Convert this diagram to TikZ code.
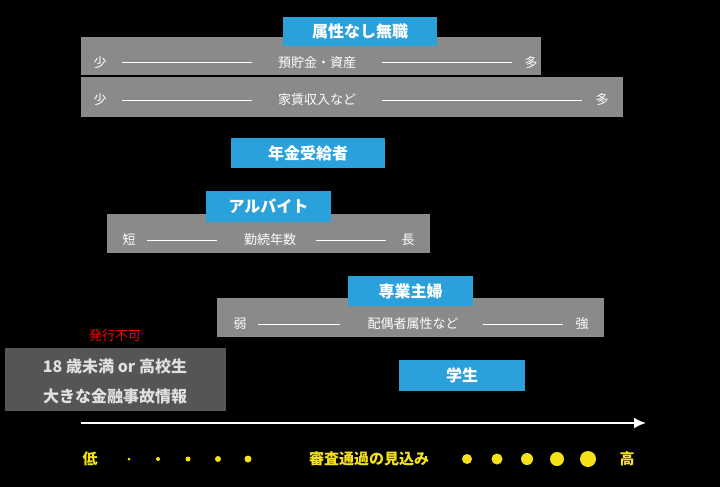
\documentclass[tikz,border=0pt]{standalone}
\usetikzlibrary{arrows.meta}
\usepackage{fontspec}
\setmainfont{Noto Sans CJK JP}
\definecolor{bluebox}{HTML}{2AA1DA}
\definecolor{graybox}{HTML}{8A8A8A}
\definecolor{darkbox}{HTML}{555555}
\definecolor{ylw}{HTML}{F5E11A}
\tikzset{
 blab/.style={fill=bluebox,text=white,font=\fontsize{16}{16}\selectfont\bfseries,inner sep=0pt},
 gbar/.style={fill=graybox},
 gtxt/.style={text=white,font=\fontsize{13}{13}\selectfont},
 ln/.style={white,line width=1pt},
 dot/.style={circle,fill=ylw,inner sep=0pt},
 ytxt/.style={text=ylw,font=\fontsize{15}{15}\selectfont\bfseries}
}
\begin{document}
\begin{tikzpicture}[x=1pt,y=-1pt]
\fill[black] (0,0) rectangle (720,487);
% group 1
\fill[gbar] (81,37) rectangle (541,75);
\fill[gbar] (81,77) rectangle (623,117);
\node[blab,minimum width=154pt,minimum height=29pt] (b1) at (360,31.5) {属性なし無職};
\node[gtxt] (s1) at (100,63) {少};
\node[gtxt] (m1) at (317,63) {預貯金・資産};
\node[gtxt] (e1) at (531,63) {多};
\draw[ln] (122,63) -- (252,63); \draw[ln] (382,63) -- (512,63);
\node[gtxt] (s2) at (100,100) {少};
\node[gtxt] (m2) at (317,100) {家賃収入など};
\node[gtxt] (e2) at (602,100) {多};
\draw[ln] (122,100) -- (252,100); \draw[ln] (382,100) -- (582,100);
% pension
\node[blab,minimum width=154pt,minimum height=30pt] (b2) at (308,153) {年金受給者};
% part-time
\fill[gbar] (107,214) rectangle (430,253);
\node[blab,minimum width=125pt,minimum height=31pt] (b3) at (268.5,206.5) {アルバイト};
\node[gtxt] (s3) at (129,240) {短};
\node[gtxt] (m3) at (270,240) {勤続年数};
\node[gtxt] (e3) at (408,240) {長};
\draw[ln] (147,240) -- (217,240); \draw[ln] (316,240) -- (386,240);
% housewife
\fill[gbar] (217,298) rectangle (604,337);
\node[blab,minimum width=125pt,minimum height=30pt] (b4) at (410.5,291) {専業主婦};
\node[gtxt] (s4) at (240,324) {弱};
\node[gtxt] (m4) at (413,324) {配偶者属性など};
\node[gtxt] (e4) at (582,324) {強};
\draw[ln] (258,324) -- (340,324); \draw[ln] (483,324) -- (563,324);
% not issued
\node[text=red,font=\fontsize{13}{13}\selectfont] (ng) at (115,336) {発行不可};
\node[fill=darkbox,minimum width=221pt,minimum height=63pt,inner sep=0pt] (nb) at (115.5,379.5) {};
\node[text=white!88!black,font=\fontsize{16}{16}\selectfont\bfseries] (n1) at (115,366) {18 歳未満 or 高校生};
\node[text=white!88!black,font=\fontsize{16}{16}\selectfont\bfseries] (n2) at (115,396) {大きな金融事故情報};
% student
\node[blab,minimum width=126pt,minimum height=31pt] (b5) at (462,375.5) {学生};
% axis
\coordinate (a0) at (81,423); \coordinate (a1) at (646,423);
\draw[white,line width=2.2pt,-{Latex[length=12pt,width=11pt]}] (a0) -- (a1);
\node[ytxt] (lo) at (90,459) {低};
\node[ytxt] (mid) at (369,459) {審査通過の見込み};
\node[ytxt] (hi) at (627,459) {高};
\foreach \x/\d in {129/3,158/4,188/5,218/6,248/7}{\node[dot,minimum size=\d pt] at (\x,459) {};}
\foreach \x/\d in {467/10,497/11,527/12,557/14,588/16}{\node[dot,minimum size=\d pt] at (\x,459) {};}
\end{tikzpicture}
\end{document}
